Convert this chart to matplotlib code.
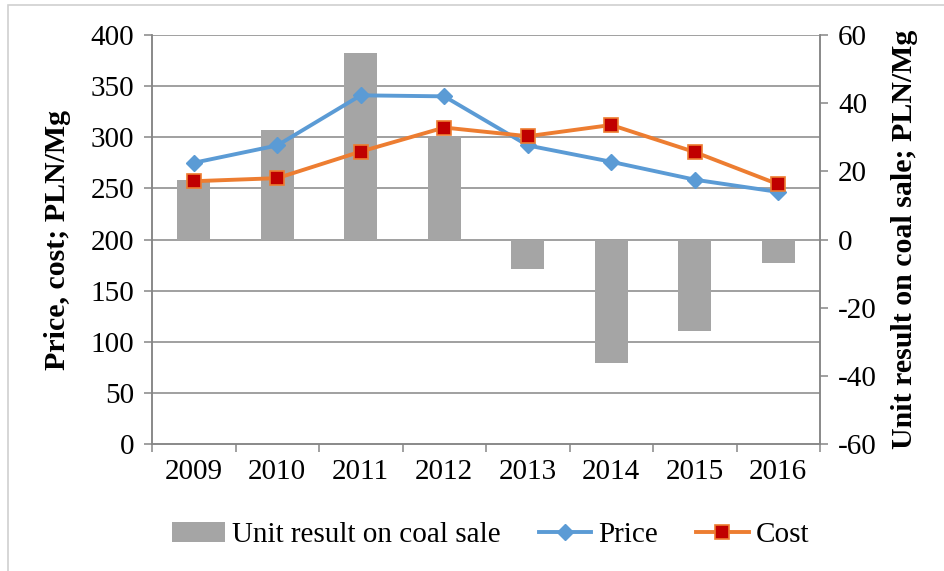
import numpy as np
import matplotlib
matplotlib.use('Agg')
import matplotlib.pyplot as plt
from matplotlib.patches import Rectangle

plt.rcParams['font.family'] = ['Liberation Serif', 'DejaVu Serif']

years = ['2009', '2010', '2011', '2012', '2013', '2014', '2015', '2016']
unit_result = [17.5, 32.0, 54.8, 30.5, -8.6, -36.2, -26.7, -6.9]
price = [275, 292, 341, 340, 292, 276, 258.5, 246.5]
cost = [257, 260, 286, 309.5, 301, 312, 285.5, 254]

left_ticks = list(range(0, 401, 50))
right_ticks = list(range(-60, 61, 20))

grey = '#868686'
fs = 21

fig = plt.figure(figsize=(9.44, 5.71), dpi=100)
fig.patches.append(Rectangle((8/944, -0.1), 1.2, 1 - 5/571 + 0.1, transform=fig.transFigure,
                             fill=False, edgecolor='#d0d0d0', linewidth=1.2))

# bars sit on the right-hand scale, lines on the left-hand one
ax = fig.add_axes([152/944, 1 - 444/571, (820 - 152)/944, (444 - 35)/571])
ax2 = ax.twinx()

x = np.arange(len(years))
ax.set_xlim(-0.5, len(years) - 0.5)
ax.set_ylim(-60, 60)
ax2.set_ylim(0, 400)

# gridlines follow the left scale, drawn behind the bars
for v in left_ticks[1:]:
    ax.axhline(-60 + v * 120 / 400, color=grey, linewidth=1.1, zorder=0)

bars = ax.bar(x, unit_result, width=0.4, color='#A5A5A5', zorder=2, label='Unit result on coal sale')

l1, = ax2.plot(x, price, color='#5B9BD5', linewidth=2.8, marker='D', markersize=8.5,
               markerfacecolor='#5B9BD5', markeredgecolor='#5B9BD5', label='Price')
l2, = ax2.plot(x, cost, color='#ED7D31', linewidth=2.8, marker='s', markersize=9.5,
               markerfacecolor='#C00000', markeredgecolor='#ED7D31', markeredgewidth=1.2, label='Cost')

ax.yaxis.tick_right()
ax.yaxis.set_label_position('right')
ax2.yaxis.tick_left()
ax2.yaxis.set_label_position('left')

ax.set_yticks(right_ticks)
ax.set_yticklabels([str(t) for t in right_ticks])
ax2.set_yticks(left_ticks)
ax2.set_yticklabels([str(t) for t in left_ticks])

ax.set_xticks(x)
ax.set_xticklabels(years)
ax.set_xticks(np.arange(-0.5, len(years)), minor=True)
ax.tick_params(axis='x', which='major', length=0, labelsize=fs, pad=11)
ax.tick_params(axis='x', which='minor', length=6, color=grey, width=1.1, direction='out')
ax.tick_params(axis='y', length=6, color=grey, width=1.1, labelsize=fs, pad=7)
ax2.tick_params(axis='y', length=6, color=grey, width=1.1, labelsize=fs, pad=7)

for s in ['top']:
    ax.spines[s].set_visible(False)
    ax2.spines[s].set_visible(False)
for s in ['left', 'right', 'bottom']:
    ax.spines[s].set_color(grey)
    ax.spines[s].set_linewidth(1.1)
    ax2.spines[s].set_color(grey)
    ax2.spines[s].set_linewidth(1.1)

ax2.set_ylabel('Price, cost; PLN/Mg', fontsize=21.5, fontweight='bold', labelpad=14)
ax.set_ylabel('Unit result on coal sale; PLN/Mg', fontsize=21.5, fontweight='bold',
              rotation=90, labelpad=10)

fig.legend(handles=[bars, l1, l2], loc='center', bbox_to_anchor=(0.52, 1 - 535/571),
           ncol=3, frameon=False, fontsize=fs, handlelength=1.8, handletextpad=0.25,
           columnspacing=1.3)

fig.savefig('out.png', dpi=100)
